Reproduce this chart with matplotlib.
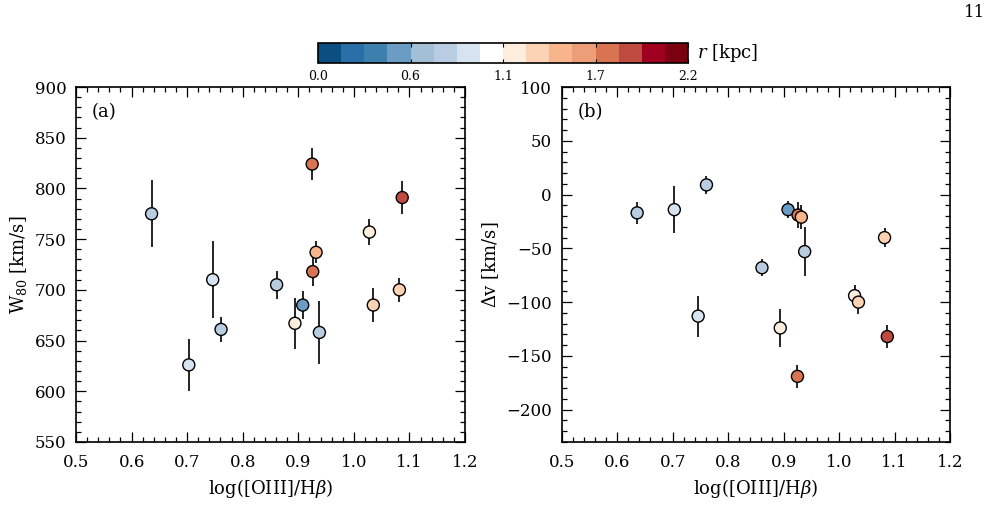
import numpy as np
import matplotlib
matplotlib.use("Agg")
import matplotlib.pyplot as plt
from matplotlib.ticker import MultipleLocator
from matplotlib.colors import BoundaryNorm, ListedColormap

plt.rcParams["font.family"] = "DejaVu Serif"
plt.rcParams["mathtext.fontset"] = "dejavuserif"

# dados
log_oiii_hb = [0.636, 0.703, 0.746, 0.761, 0.861, 0.908, 0.894, 0.925,
               0.926, 0.932, 0.938, 1.028, 1.035, 1.082, 1.087]
w80 = [775, 626, 710, 661, 705, 685, 667, 824, 718, 737, 658, 757, 685, 700, 791]
w80_err = [33, 26, 38, 12, 14, 14, 25, 16, 14, 11, 31, 13, 17, 12, 16]
dv = [-17, -14, -113, 9, -68, -14, -124, -169, -19, -21, -53, -94, -100, -40, -132]
dv_err = [10, 22, 19, 8, 8, 8, 18, 11, 12, 11, 23, 10, 11, 9, 11]
r_kpc = [0.75, 0.90, 0.90, 0.75, 0.75, 0.48, 1.15, 1.75, 1.70, 1.45, 0.75,
         1.15, 1.30, 1.30, 1.85]

cbar_ticks = [0.0, 0.55, 1.1, 1.65, 2.2]
cbar_ticklabels = ["0.0", "0.6", "1.1", "1.7", "2.2"]

# paleta de 16 cores parecida com a da figura original
cores = ["#0b4f82", "#2a6ea8", "#3d80ae", "#6a9cc4", "#a2bfd6", "#b8cde2",
         "#d8e3f1", "#ffffff", "#fdeddc", "#fbd2b4", "#f8b48a", "#eb9e77",
         "#d87451", "#bf4a40", "#a0001f", "#7b0010"]
cmap = ListedColormap(cores)
bounds = np.linspace(0, 2.2, 17)
norm = BoundaryNorm(bounds, cmap.N)

fig = plt.figure(figsize=(10, 5.22), dpi=100)
ax1 = fig.add_axes([0.076, 0.1533, 0.389, 0.680])
ax2 = fig.add_axes([0.5617, 0.1533, 0.3883, 0.680])


def painel(ax, y, yerr, ylim, ylabel, letra):
    ax.errorbar(log_oiii_hb, y, yerr=yerr, fmt="none", ecolor="black",
                elinewidth=1.2, capsize=0, zorder=2)
    sc = ax.scatter(log_oiii_hb, y, c=r_kpc, cmap=cmap, norm=norm, s=75,
                    edgecolors="black", linewidths=1.0, zorder=3)
    ax.set_xlim(0.5, 1.2)
    ax.set_ylim(*ylim)
    ax.xaxis.set_major_locator(MultipleLocator(0.1))
    ax.xaxis.set_minor_locator(MultipleLocator(0.02))
    ax.yaxis.set_major_locator(MultipleLocator(50))
    ax.yaxis.set_minor_locator(MultipleLocator(10))
    ax.tick_params(which="both", direction="in", top=True, right=True,
                   labelsize=12, width=0.9)
    ax.tick_params(axis="x", which="major", pad=9)
    ax.tick_params(axis="y", which="major", pad=7)
    ax.tick_params(which="major", length=7)
    ax.tick_params(which="minor", length=3.5)
    ax.xaxis.set_major_formatter(plt.FuncFormatter(lambda v, p: f"{v:.1f}"))
    for s in ax.spines.values():
        s.set_linewidth(1.2)
    ax.set_xlabel(r"log([OIII]/H$\beta$)", fontsize=13, labelpad=4)
    ax.set_ylabel(ylabel, fontsize=13, labelpad=4)
    ax.text(0.04, 0.93, letra, transform=ax.transAxes, fontsize=13,
            va="center", ha="left")
    return sc


sc = painel(ax1, w80, w80_err, (550, 900), r"W$_{80}$ [km/s]", "(a)")
painel(ax2, dv, dv_err, (-230, 100), r"$\Delta$v [km/s]", "(b)")
ax1.set_yticks(np.arange(550, 901, 50))
ax2.set_yticks(np.arange(-200, 101, 50))

cax = fig.add_axes([0.318, 0.879, 0.370, 0.038])
cb = fig.colorbar(sc, cax=cax, orientation="horizontal", ticks=cbar_ticks)
cb.set_ticklabels(cbar_ticklabels)
cb.outline.set_linewidth(1.2)
cax.tick_params(which="major", direction="in", length=3, labelsize=9,
                top=True, bottom=True, pad=5)
cax.xaxis.set_ticks_position("both")
cax.xaxis.set_label_position("bottom")
cb.ax.minorticks_off()
fig.text(0.697, 0.898, r"$r$ [kpc]", fontsize=13, va="center", ha="left")

fig.text(0.985, 0.977, "11", fontsize=12, ha="right", va="center")

fig.savefig("out.png", dpi=100)
